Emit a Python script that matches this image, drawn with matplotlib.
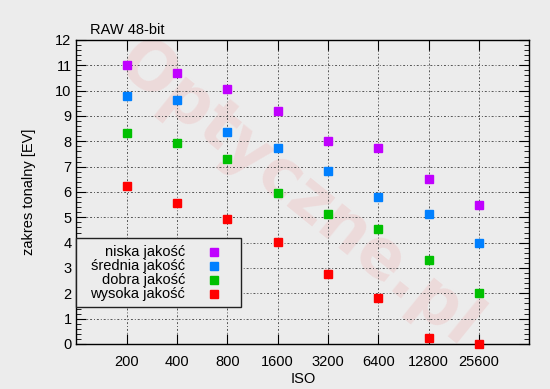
import numpy as np
import matplotlib
matplotlib.use('Agg')
import matplotlib.pyplot as plt
from matplotlib.ticker import MultipleLocator
from matplotlib.patches import Rectangle

plt.rcParams['font.family'] = ['Liberation Sans', 'DejaVu Sans']
plt.rcParams['font.size'] = 10

# dane
iso = ['200', '400', '800', '1600', '3200', '6400', '12800', '25600']
niska = [11.0, 10.71, 10.05, 9.21, 8.01, 7.75, 6.50, 5.50]
srednia = [9.79, 9.62, 8.36, 7.75, 6.84, 5.79, 5.12, 3.97]
dobra = [8.32, 7.94, 7.29, 5.95, 5.14, 4.55, 3.32, 2.00]
wysoka = [6.25, 5.55, 4.95, 4.01, 2.75, 1.80, 0.25, 0.0]

series = [
    ('niska jakość', niska, '#c000ff'),
    ('średnia jakość', srednia, '#0080ff'),
    ('dobra jakość', dobra, '#00c000'),
    ('wysoka jakość', wysoka, '#ff0000'),
]

bg = '#ececec'
fig = plt.figure(figsize=(5.5, 3.89), dpi=100, facecolor=bg)
ax = fig.add_axes([0.139, 0.1157, 0.823, 0.7815], facecolor=bg)

x = np.arange(len(iso))

# znak wodny
ax.text(0.49, 0.49, 'Optyczne.pl', transform=ax.transAxes, rotation=-39,
        ha='center', va='center', fontsize=48, fontweight='bold',
        color='#ecdada', zorder=0, family='DejaVu Sans')

for label, vals, col in series:
    ax.plot(x, vals, linestyle='none', marker='s', ms=5.5, color=col,
            label=label, zorder=3, clip_on=False)

ax.set_xlim(-1, 8)
ax.set_ylim(0, 12)
ax.set_xticks(x)
ax.set_xticklabels(iso)
ax.yaxis.set_major_locator(MultipleLocator(1))
ax.yaxis.set_minor_locator(MultipleLocator(0.2))
ax.tick_params(axis='both', which='both', direction='in', top=True, right=True,
               labelsize=10.5, colors='black')
ax.tick_params(axis='y', which='major', length=7)
ax.tick_params(axis='y', which='minor', length=3.5)
ax.tick_params(axis='x', which='major', length=7, pad=8)

ax.grid(True, which='major', linestyle=(0, (2, 2, 1, 2)), color='#555555', lw=0.7)
ax.set_axisbelow(True)
for s in ax.spines.values():
    s.set_linewidth(1.0)

ax.set_xlabel('ISO', fontsize=10.5, labelpad=2)
ax.set_ylabel('zakres tonalny [EV]', fontsize=10.5, labelpad=14)
ax.text(0.03, 1.01, 'RAW 48-bit', transform=ax.transAxes, fontsize=10.5,
        ha='left', va='bottom')

# legenda w stylu gnuplota (tekst wyrównany do prawej)
ax.add_patch(Rectangle((0.0, 0.1217), 0.3635, 0.226, transform=ax.transAxes,
                       facecolor=bg, edgecolor='#222222', lw=1.0, zorder=5,
                       clip_on=False))
row_y = [0.3026, 0.2566, 0.2105, 0.1645]
for (label, vals, col), yy in zip(series, row_y):
    ax.text(0.2398, yy, label, transform=ax.transAxes, ha='right', va='center',
            fontsize=10.5, zorder=6)
    ax.plot([0.3028], [yy], transform=ax.transAxes, linestyle='none', marker='s',
            ms=5.5, color=col, zorder=6, clip_on=False)

fig.savefig('out.png', dpi=100, facecolor=bg)
